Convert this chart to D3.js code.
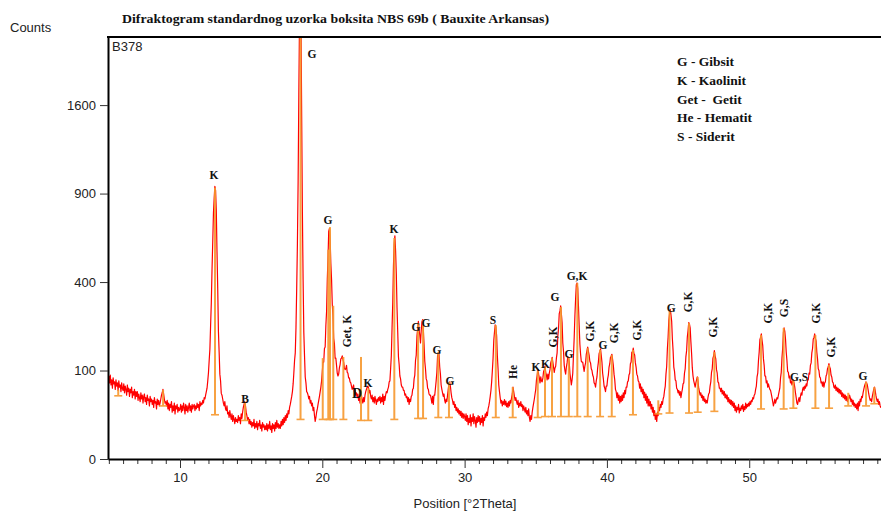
<!DOCTYPE html>
<html>
<head>
<meta charset="utf-8">
<script src="https://cdn.jsdelivr.net/npm/d3@7"></script>
<style>
  body { margin: 0; background: #fff; }
  text { white-space: pre; }
</style>
</head>
<body>
<svg id="chart" width="881" height="511"></svg>
<script>
// ---- Measured pattern: counts every 0.05 °2θ, one row per degree, from 5.00 ----
const scanStart = 5.0;
const scanStep = 0.05;
const counts = [
  88,74,90,70,80,64,84,72,76,62,80,68,74,60,78,66,70,58,74,64,                 // 5
  60,72,56,68,62,52,70,58,64,50,62,56,66,48,58,52,62,46,58,50,                 // 6
  58,44,54,48,42,56,46,52,40,50,54,42,48,38,52,44,46,36,50,42,                 // 7
  46,38,44,34,48,40,42,32,46,38,44,36,40,46,52,56,62,54,46,40,                 // 8
  42,36,44,32,40,30,38,34,42,28,36,30,40,26,36,32,38,28,34,30,                 // 9
  32,38,28,36,30,40,34,26,38,30,36,28,34,40,30,36,28,38,32,36,                 // 10
  38,30,36,32,40,34,38,30,42,36,40,38,44,40,48,46,52,58,64,78,                 // 11
  95,124,154,228,312,458,600,772,868,950,922,790,548,372,208,146,92,78,55,52,  // 12
  46,40,36,42,32,30,36,26,28,22,30,24,20,26,18,24,20,16,22,18,                 // 13
  20,17,24,19,22,16,26,21,28,34,38,42,36,28,24,19,22,16,20,15,                 // 14
  18,13,17,14,20,12,16,13,18,11,16,14,19,12,15,10,17,13,15,11,                 // 15
  14,11,16,10,15,12,18,11,14,9,16,12,15,10,17,12,19,13,16,12,                  // 16
  15,12,18,14,20,15,22,17,24,19,26,22,30,26,34,38,44,50,58,72,                 // 17
  95,124,144,220,370,590,980,1700,2500,2900,2500,1500,780,410,205,136,86,74,58,56, // 18
  52,46,50,40,44,36,40,30,34,24,18,22,28,32,38,44,50,58,66,78,                 // 19
  98,120,120,156,160,228,278,412,515,662,680,612,488,412,306,262,186,170,130,130, // 20
  112,94,88,92,106,114,128,130,136,126,120,106,102,104,112,96,94,84,84,76,      // 21
  74,68,62,66,70,58,62,52,56,48,54,44,50,40,46,52,44,40,48,42,                 // 22
  52,58,62,66,68,64,56,60,50,46,52,42,48,40,50,44,38,46,42,48,                 // 23
  44,50,40,48,42,54,38,50,44,52,58,56,62,66,76,78,104,136,218,312,             // 24
  478,592,636,552,438,292,206,134,114,88,82,70,66,66,60,60,52,54,48,50,        // 25
  42,48,38,46,42,50,52,62,64,82,90,124,138,192,218,242,214,196,172,210,        // 26
  240,248,212,168,122,104,82,78,64,62,54,52,52,46,40,50,38,52,52,64,           // 27
  78,96,136,144,140,108,92,70,62,56,50,54,44,40,46,42,52,62,72,76,             // 28
  68,56,48,44,38,42,34,38,30,34,28,32,26,30,24,29,22,27,21,26,                 // 29
  23,19,26,18,24,15,21,17,25,14,22,18,26,16,23,19,13,22,17,24,                 // 30
  18,23,15,21,17,24,14,22,19,26,22,28,24,32,36,42,50,60,76,100,                // 31
  130,180,206,230,222,194,136,104,70,58,48,40,44,36,42,38,45,37,43,35,         // 32
  40,34,42,36,44,40,48,54,66,58,50,44,48,42,38,44,34,40,36,42,                 // 33
  35,38,30,36,32,28,34,26,30,24,32,22,18,24,20,28,34,40,46,54,                 // 34
  62,80,90,102,92,84,74,86,78,76,84,98,102,110,96,90,80,92,82,94,              // 35
  102,118,124,132,120,108,96,106,110,130,144,192,218,270,280,300,268,238,172,148, // 36
  112,100,92,108,118,134,132,120,94,82,70,80,94,138,188,262,328,388,396,372,   // 37
  298,228,168,140,122,120,120,108,98,110,118,140,150,160,148,138,122,118,104,100, // 38
  90,86,74,72,66,78,86,106,120,142,148,155,138,120,94,82,68,64,58,68,          // 39
  68,82,90,108,116,132,135,140,126,112,92,80,62,58,48,56,44,52,40,50,          // 40
  42,52,44,56,48,60,54,66,66,76,78,90,94,116,120,146,144,157,142,138,          // 41
  118,108,92,88,78,76,64,72,58,66,54,62,48,57,44,54,40,50,36,46,               // 42
  36,42,32,38,28,34,24,30,20,26,18,28,24,34,30,38,34,42,38,46,                 // 43
  50,60,68,92,110,156,190,246,268,286,266,242,184,150,108,98,80,78,64,62,      // 44
  56,60,52,58,48,56,62,72,74,94,104,134,150,190,210,238,232,220,176,142,       // 45
  106,88,78,72,66,74,80,86,78,64,58,52,56,48,52,44,50,42,46,40,                // 46
  44,40,48,54,56,68,76,96,104,130,136,150,136,128,102,94,76,74,64,64,          // 47
  58,64,54,60,52,58,48,54,46,52,42,48,40,45,38,44,36,42,34,40,                 // 48
  30,36,28,34,31,38,27,33,30,36,32,38,29,35,31,40,33,38,35,40,                 // 49
  36,42,38,44,42,48,46,52,54,62,68,86,94,124,146,182,190,200,180,164,          // 50
  128,112,88,88,74,78,66,72,66,62,60,54,48,42,36,40,46,40,44,48,               // 51
  46,52,58,64,84,96,130,156,204,220,208,184,146,124,98,96,84,88,74,78,         // 52
  70,76,80,74,66,56,48,40,38,44,48,42,50,56,52,62,66,60,68,64,                 // 53
  72,68,80,80,94,92,112,118,144,156,184,188,200,186,178,146,128,104,100,86,    // 54
  84,74,76,68,76,66,74,76,88,92,104,108,116,108,104,90,86,76,74,66,            // 55
  64,70,60,66,58,64,56,62,54,60,50,56,48,54,46,52,44,50,42,48,                 // 56
  46,52,48,42,46,38,44,36,40,34,38,32,40,30,42,36,46,42,50,48,                 // 57
  56,62,68,72,76,74,70,62,54,48,44,46,42,50,56,62,66,60,52,46,                 // 58
  42,46,38,42,36,34,36                                                         // 59
];

// ---- Reference peak list: position, peak height, local background ----
const stickAngle = [5.66, 8.81, 12.46, 14.57, 18.47, 20.03, 20.42, 20.54, 20.77, 21.48,
                    22.72, 23.23, 25.06, 26.73, 27.08, 28.15, 28.90, 32.19, 33.38, 35.14,
                    35.65, 36.14, 36.77, 37.32, 37.92, 38.65, 39.52, 40.34, 41.83, 43.61,
                    44.40, 45.77, 46.38, 47.55, 50.83, 52.42, 53.10, 54.65, 55.61, 56.96,
                    58.21, 58.79];
const stickTop   = [61, 61, 940, 40, 2600, 130, 560, 687, 300, 133,
                    133, 64, 624, 236, 247, 146, 76, 229, 66, 100,
                    108, 130, 295, 133, 395, 157, 152, 138, 152, 44,
                    283, 236, 86, 146, 196, 219, 80, 196, 113, 56,
                    76, 66];
const stickBase  = [51, 36, 25, 19, 20, 20, 20, 20, 20, 20,
                    19, 19, 20, 21, 21, 22, 22, 22, 22, 22,
                    23, 23, 23, 23, 23, 23, 23, 23, 25, 26,
                    27, 27, 28, 29, 32, 32, 33, 33, 33, 36,
                    36, 39];

// ---- Phase annotations: text, anchor (°2θ, counts), vertical writing ----
const labelText   = ["K","B","G","G","Get, K","D","K","K","G","G",
                     "G","G","S","He","K","K","G,K","G","G","G,K",
                     "G,K","G","G,K","G,K","G","G,K","G,K","G,K","G,S","G,S",
                     "G,K","G,K","G"];
const labelAngle  = [12.39,14.57,19.28,20.40,21.74,22.44,23.21,25.04,26.58,27.29,
                     28.06,28.97,32.00,33.40,35.02,35.69,36.18,36.35,37.34,37.90,
                     38.81,39.73,40.50,42.12,44.51,45.70,47.46,51.32,52.45,53.50,
                     54.69,55.75,58.00];
const labelCounts = [1030,46,2094,729,209,56,74,675,222,236,
                     152,78,247,97,108,115,190,335,141,428,
                     209,166,203,212,291,315,222,272,291,86,
                     272,160,88];
const labelVertical = [0,0,0,0,1,0,0,0,0,0,
                       0,0,0,1,0,0,1,0,0,0,
                       1,0,1,1,0,1,1,1,1,0,
                       1,1,0];

const legendLines = ["G - Gibsit", "K - Kaolinit", "Get -  Getit", "He - Hematit", "S - Siderit"];
const yTickValues = [0, 100, 400, 900, 1600];
const xTickValues = [10, 20, 30, 40, 50];

const titleText = "Difraktogram standardnog uzorka boksita NBS 69b ( Bauxite Arkansas)";
const sampleName = "B378";

// ---- Layout ----
const svg = d3.select("#chart");
const plot = { left: 108, top: 37, right: 881, bottom: 459 };
const serif = "'Liberation Serif','Times New Roman',serif";
const sans = "'Liberation Sans',Arial,sans-serif";

const x = d3.scaleLinear().domain([4.94, 59.26]).range([plot.left, plot.right]);
const y = d3.scaleSqrt().domain([0, 2275]).range([plot.bottom, plot.top]);

svg.append("defs").append("clipPath").attr("id", "plot-clip")
  .append("rect")
  .attr("x", plot.left).attr("y", plot.top)
  .attr("width", plot.right - plot.left).attr("height", plot.bottom - plot.top);

// Title and corner texts
svg.append("text")
  .attr("x", 122).attr("y", 23)
  .attr("font-family", serif).attr("font-weight", "bold").attr("font-size", 13)
  .attr("textLength", 427).attr("lengthAdjust", "spacingAndGlyphs")
  .attr("fill", "#111")
  .text(titleText);

svg.append("text")
  .attr("x", 10).attr("y", 32)
  .attr("font-family", sans).attr("font-size", 13).attr("fill", "#222")
  .text("Counts");

// Pattern line and peak sticks
const data = counts.map((c, i) => ({ a: scanStart + i * scanStep, c }));
const sticks = stickAngle.map((a, i) => ({ a, top: stickTop[i], base: stickBase[i] }));

const plotG = svg.append("g").attr("clip-path", "url(#plot-clip)");

plotG.append("path")
  .datum(data)
  .attr("fill", "none")
  .attr("stroke", "#ff0000")
  .attr("stroke-width", 1.2)
  .attr("stroke-linejoin", "round")
  .attr("d", d3.line().x(d => x(d.a)).y(d => y(d.c)));

const stickColor = "#f7982e";
const stickG = plotG.append("g").attr("stroke", stickColor).attr("opacity", 0.9);
stickG.selectAll("line.stem").data(sticks).join("line")
  .attr("class", "stem")
  .attr("x1", d => x(d.a)).attr("x2", d => x(d.a))
  .attr("y1", d => y(d.base)).attr("y2", d => y(d.top))
  .attr("stroke-width", 2);
stickG.selectAll("line.foot").data(sticks).join("line")
  .attr("class", "foot")
  .attr("x1", d => x(d.a) - 4).attr("x2", d => x(d.a) + 4)
  .attr("y1", d => y(d.base)).attr("y2", d => y(d.base))
  .attr("stroke-width", 1.6);

// Axes
const yAxis = d3.axisLeft(y).tickValues(yTickValues).tickFormat(d3.format("d"))
  .tickSize(8).tickSizeOuter(0).tickPadding(4);
const yg = svg.append("g").attr("transform", `translate(${plot.left},0)`).call(yAxis);
yg.select(".domain").attr("stroke", "#000").attr("stroke-width", 2);
yg.selectAll(".tick line").attr("stroke", "#333").attr("stroke-width", 1);
yg.selectAll(".tick text").attr("font-family", sans).attr("font-size", 13).attr("fill", "#222");

const minorTicks = d3.range(5, 60).filter(v => v % 10 !== 0);
const xMinor = d3.axisBottom(x).tickValues(minorTicks).tickSize(5).tickSizeOuter(0).tickFormat("");
const xgMinor = svg.append("g").attr("transform", `translate(0,${plot.bottom})`).call(xMinor);
xgMinor.select(".domain").remove();
xgMinor.selectAll(".tick line").attr("stroke", "#333");

const xAxis = d3.axisBottom(x).tickValues(xTickValues).tickSize(9).tickSizeOuter(0).tickPadding(5);
const xg = svg.append("g").attr("transform", `translate(0,${plot.bottom})`).call(xAxis);
xg.select(".domain").attr("stroke", "#000").attr("stroke-width", 2);
xg.selectAll(".tick line").attr("stroke", "#333");
xg.selectAll(".tick text").attr("font-family", sans).attr("font-size", 13).attr("fill", "#222");

svg.append("text")
  .attr("x", 465).attr("y", 508)
  .attr("text-anchor", "middle")
  .attr("font-family", sans).attr("font-size", 13).attr("fill", "#222")
  .text("Position [°2Theta]");

// Top border of the plot frame
svg.append("line")
  .attr("x1", plot.left - 1).attr("x2", plot.right)
  .attr("y1", plot.top).attr("y2", plot.top)
  .attr("stroke", "#000").attr("stroke-width", 2);

svg.append("text")
  .attr("x", 112).attr("y", 51)
  .attr("font-family", sans).attr("font-size", 13).attr("fill", "#222")
  .text(sampleName);

// Phase annotations
const labels = labelText.map((t, i) => ({ t, a: labelAngle[i], c: labelCounts[i], v: labelVertical[i] }));
const largeLabels = { "D": 14 };
svg.append("g").selectAll("text").data(labels).join("text")
  .attr("transform", d => `translate(${x(d.a)},${y(d.c)})` + (d.v ? " rotate(-90)" : ""))
  .attr("text-anchor", "middle")
  .attr("dy", "0.35em")
  .attr("font-family", serif).attr("font-weight", "bold")
  .attr("font-size", d => largeLabels[d.t] || 11.5)
  .attr("fill", "#111")
  .text(d => d.t);

// Legend
svg.append("g").selectAll("text").data(legendLines).join("text")
  .attr("x", 677)
  .attr("y", (d, i) => 66 + i * 18.8)
  .attr("font-family", serif).attr("font-weight", "bold").attr("font-size", 13.5)
  .attr("fill", "#111")
  .text(d => d);
</script>
</body>
</html>
